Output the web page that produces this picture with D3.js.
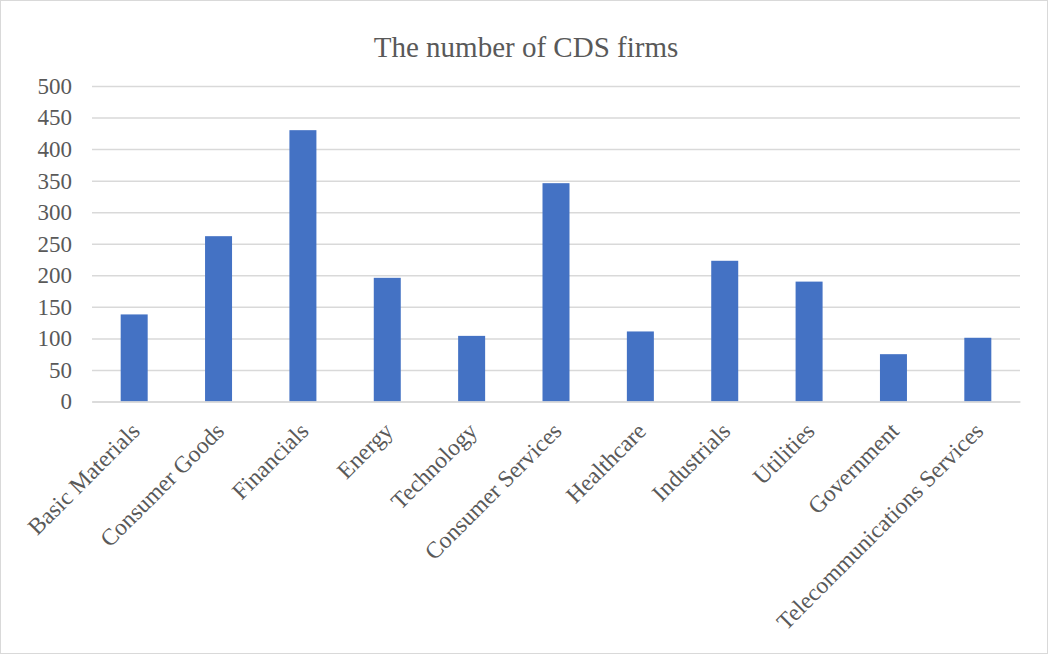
<!DOCTYPE html>
<html>
<head>
<meta charset="utf-8">
<script src="https://cdn.jsdelivr.net/npm/d3@7"></script>
<style>
  html, body { margin: 0; padding: 0; background: #fff; }
  svg { display: block; font-family: "Liberation Serif", "Times New Roman", serif; }
</style>
</head>
<body>
<svg id="chart" width="1048" height="655"></svg>
<script>
// Sector categories and the number of CDS firms in each
const categories = [
  "Basic Materials", "Consumer Goods", "Financials", "Energy", "Technology",
  "Consumer Services", "Healthcare", "Industrials", "Utilities", "Government",
  "Telecommunications Services"
];
const firmCounts = [138, 262, 430, 196, 104, 346, 111, 223, 190, 75, 101];
const yTicks = [0, 50, 100, 150, 200, 250, 300, 350, 400, 450, 500];
const chartTitle = "The number of CDS firms";

const width = 1048, height = 655;
const margin = { top: 86, right: 28, bottom: 254, left: 92 };
const textColor = "#595959";
const gridColor = "#d9d9d9";

const svg = d3.select("#chart");

// outer frame
svg.append("rect")
  .attr("x", 0.5).attr("y", 0.5)
  .attr("width", width - 1).attr("height", height - 2)
  .attr("fill", "#fff").attr("stroke", gridColor);

const x = d3.scaleBand()
  .domain(categories)
  .range([margin.left, width - margin.right])
  .paddingInner(0.68)
  .paddingOuter(0.34);

const y = d3.scaleLinear()
  .domain([0, 500])
  .range([height - margin.bottom + 0.5, margin.top]);

// horizontal gridlines with value labels
const yAxis = d3.axisLeft(y)
  .tickValues(yTicks)
  .tickSize(-(width - margin.right - margin.left))
  .tickPadding(20)
  .tickFormat(d3.format("d"));

const gy = svg.append("g")
  .attr("transform", `translate(${margin.left},0)`)
  .call(yAxis);
gy.select(".domain").remove();
gy.selectAll(".tick line").attr("stroke", gridColor).attr("stroke-width", 1.5);
gy.selectAll(".tick text")
  .attr("fill", textColor)
  .attr("font-size", 23)
  .attr("font-family", "Liberation Serif, Times New Roman, serif");

// bars
svg.append("g").selectAll("rect")
  .data(firmCounts)
  .join("rect")
  .attr("x", (d, i) => x(categories[i]))
  .attr("width", x.bandwidth())
  .attr("y", d => y(d))
  .attr("height", d => y(0) - y(d))
  .attr("fill", "#4472c4");

// category labels, rotated
const xAxis = d3.axisBottom(x).tickSize(0).tickPadding(0);
const gx = svg.append("g")
  .attr("transform", `translate(0,${y(0)})`)
  .call(xAxis);
gx.select(".domain").attr("stroke", gridColor).attr("stroke-width", 1.5);
gx.selectAll(".tick text")
  .attr("fill", textColor)
  .attr("font-size", 23.5)
  .attr("font-family", "Liberation Serif, Times New Roman, serif")
  .attr("text-anchor", "end")
  .attr("y", 0)
  .attr("dy", null)
  .attr("transform", "translate(7,31) rotate(-45)");

// title
svg.append("text")
  .attr("x", 526)
  .attr("y", 57)
  .attr("text-anchor", "middle")
  .attr("fill", textColor)
  .attr("font-size", 29)
  .text(chartTitle);
</script>
</body>
</html>
